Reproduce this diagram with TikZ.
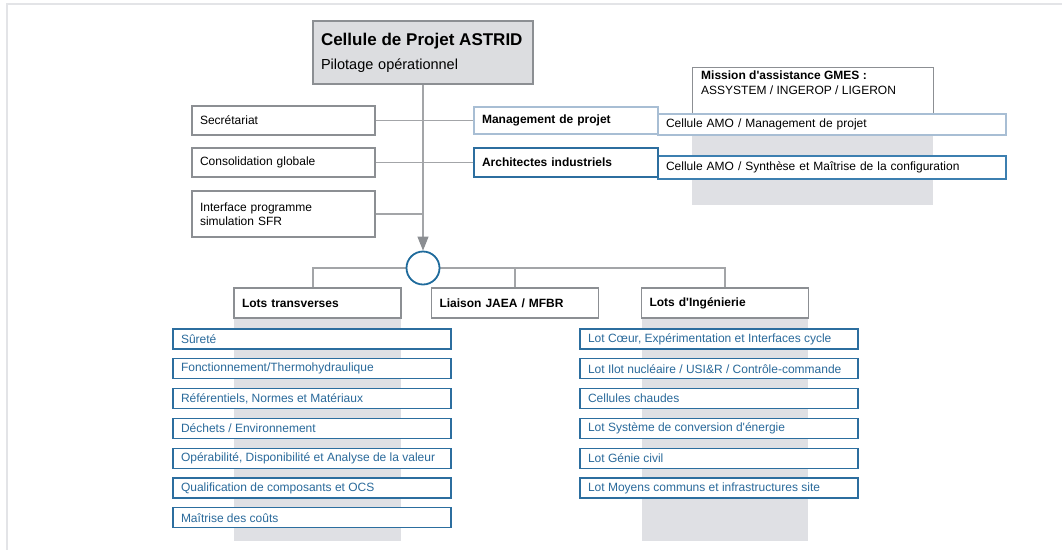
\documentclass[tikz,border=0pt]{standalone}
\usepackage{fontspec}
\setmainfont{Liberation Sans}
\usetikzlibrary{arrows.meta}
\definecolor{framegray}{HTML}{E3E4E7}
\definecolor{lgray}{HTML}{A3A5A8}
\definecolor{agray}{HTML}{8B8E92}
\definecolor{boxgray}{HTML}{8C8F93}
\definecolor{topfill}{HTML}{DCDDE0}
\definecolor{colgray}{HTML}{DFE0E4}
\definecolor{bblue}{HTML}{2C6E9F}
\definecolor{tblue}{HTML}{2A6A9B}
\definecolor{lblue}{HTML}{A8BED4}
\definecolor{mblue}{HTML}{3C7FB0}
\definecolor{cblue}{HTML}{1F6B9C}
\newcommand{\q}{\textquotesingle}
\newcommand{\lb}[1]{\makebox[262pt][l]{#1}}
\begin{document}
\begin{tikzpicture}[x=1pt,y=-1pt,
  every node/.style={font=\fontsize{12}{14.5}\selectfont},
  gbox/.style={draw=boxgray, line width=1.1pt, fill=white, rectangle, inner xsep=8pt, inner ysep=0pt, align=left, text=black},
  hbox/.style={gbox, font=\fontsize{12}{14.5}\selectfont\bfseries, minimum width=167pt, minimum height=30pt, text width=151pt},
  bbox/.style={draw=bblue, line width=1.2pt, fill=white, text=tblue, rectangle, inner xsep=8pt, inner ysep=0pt, minimum width=278pt, minimum height=20pt},
  conn/.style={draw=lgray, line width=1.1pt}
]
\useasboundingbox (0,0) rectangle (1062,550);
% frame
\draw[framegray, line width=2pt] (7,550) -- (7,4) -- (1062,4);
% gray columns
\fill[colgray] (234,318) rectangle (401,541);
\fill[colgray] (642,318) rectangle (808,541);
\fill[colgray] (692,100) rectangle (933,205);

% top box
\node[gbox, fill=topfill, minimum width=220pt, minimum height=63pt, text width=204pt, font=\fontsize{14.5}{24}\selectfont] (top) at (423,52.5)
  {{\fontsize{17}{24}\selectfont\bfseries Cellule de Projet ASTRID}\\Pilotage opérationnel};

% left staff boxes
\node[gbox, minimum width=183pt, minimum height=29pt, text width=167pt] (sec) at (283.5,120.5) {Secrétariat};
\node[gbox, minimum width=183pt, minimum height=29pt, text width=167pt] (cons) at (283.5,162.5) {Consolidation globale};
\node[gbox, minimum width=183pt, minimum height=46pt, text width=167pt] (intf) at (283.5,214) {Interface programme\\simulation SFR};

% GMES
\node[gbox, minimum width=241pt, minimum height=47pt, anchor=north west] (gmes) at (692,67) {};
\node[anchor=north west, align=left, inner sep=0pt, font=\fontsize{12}{15}\selectfont] (gmestxt) at (701,71)
  {\textbf{Mission d\q assistance GMES :}\\ASSYSTEM / INGEROP / LIGERON};

% AMO boxes
\node[gbox, draw=lblue, minimum width=348pt, minimum height=21pt, text width=332pt] (amo1) at (832,124.5) {Cellule AMO / Management de projet};
\node[gbox, draw=mblue, minimum width=348pt, minimum height=23pt, text width=332pt] (amo2) at (832,167.5) {Cellule AMO / Synthèse et Maîtrise de la configuration};

% right staff boxes
\node[gbox, draw=lblue, font=\fontsize{12}{14.5}\selectfont\bfseries, minimum width=184pt, minimum height=27pt, text width=168pt] (mgmt) at (566,120.5) {Management de projet};
\node[gbox, draw=bblue, font=\fontsize{12}{14.5}\selectfont\bfseries, minimum width=184pt, minimum height=29pt, text width=168pt] (arch) at (566,162.5) {Architectes industriels};

% hub position
\coordinate (hubc) at (423,268);

% lot headers
\node[hbox] (lt) at (317.5,303) {Lots transverses};
\node[hbox] (li) at (515,303) {Liaison JAEA / MFBR};
\node[hbox] (ing) at (725,303) {Lots d\q Ingénierie};

\draw[conn] (hubc) -| ([xshift=-4.5pt]lt.north);
\draw[conn] (hubc) -| (li.north);
\draw[conn] (hubc) -| (ing.north);
\node[circle, draw=cblue, line width=1.8pt, fill=white, minimum size=33pt, inner sep=0pt] (hub) at (hubc) {};

% connectors
\draw[conn, -{Triangle[length=14pt,width=11pt,color=agray]}] (top.south) -- (hub.north);
\draw[conn] (sec.east) -- (mgmt.west);
\draw[conn] (cons.east) -- (arch.west);
\draw[conn] (intf.east) -- (intf.east -| top.south);

% left lots
\node[bbox] (l1) at (312,339) {\lb{Sûreté}};
\node[bbox] (l2) at (312,368.8) {\lb{Fonctionnement/Thermohydraulique}};
\node[bbox] (l3) at (312,398.6) {\lb{Référentiels, Normes et Matériaux}};
\node[bbox] (l4) at (312,428.4) {\lb{Déchets / Environnement}};
\node[bbox] (l5) at (312,458.2) {\lb{Opérabilité, Disponibilité et Analyse de la valeur}};
\node[bbox] (l6) at (312,488) {\lb{Qualification de composants et OCS}};
\node[bbox] (l7) at (312,517.8) {\lb{Maîtrise des coûts}};

% right lots
\node[bbox] (r1) at (719,339) {\lb{Lot Cœur, Expérimentation et Interfaces cycle}};
\node[bbox] (r2) at (719,368.8) {\lb{Lot Ilot nucléaire / USI\&R / Contrôle-commande}};
\node[bbox] (r3) at (719,398.6) {\lb{Cellules chaudes}};
\node[bbox] (r4) at (719,428.4) {\lb{Lot Système de conversion d\q énergie}};
\node[bbox] (r5) at (719,458.2) {\lb{Lot Génie civil}};
\node[bbox] (r6) at (719,488) {\lb{Lot Moyens communs et infrastructures site}};
\end{tikzpicture}
\end{document}
